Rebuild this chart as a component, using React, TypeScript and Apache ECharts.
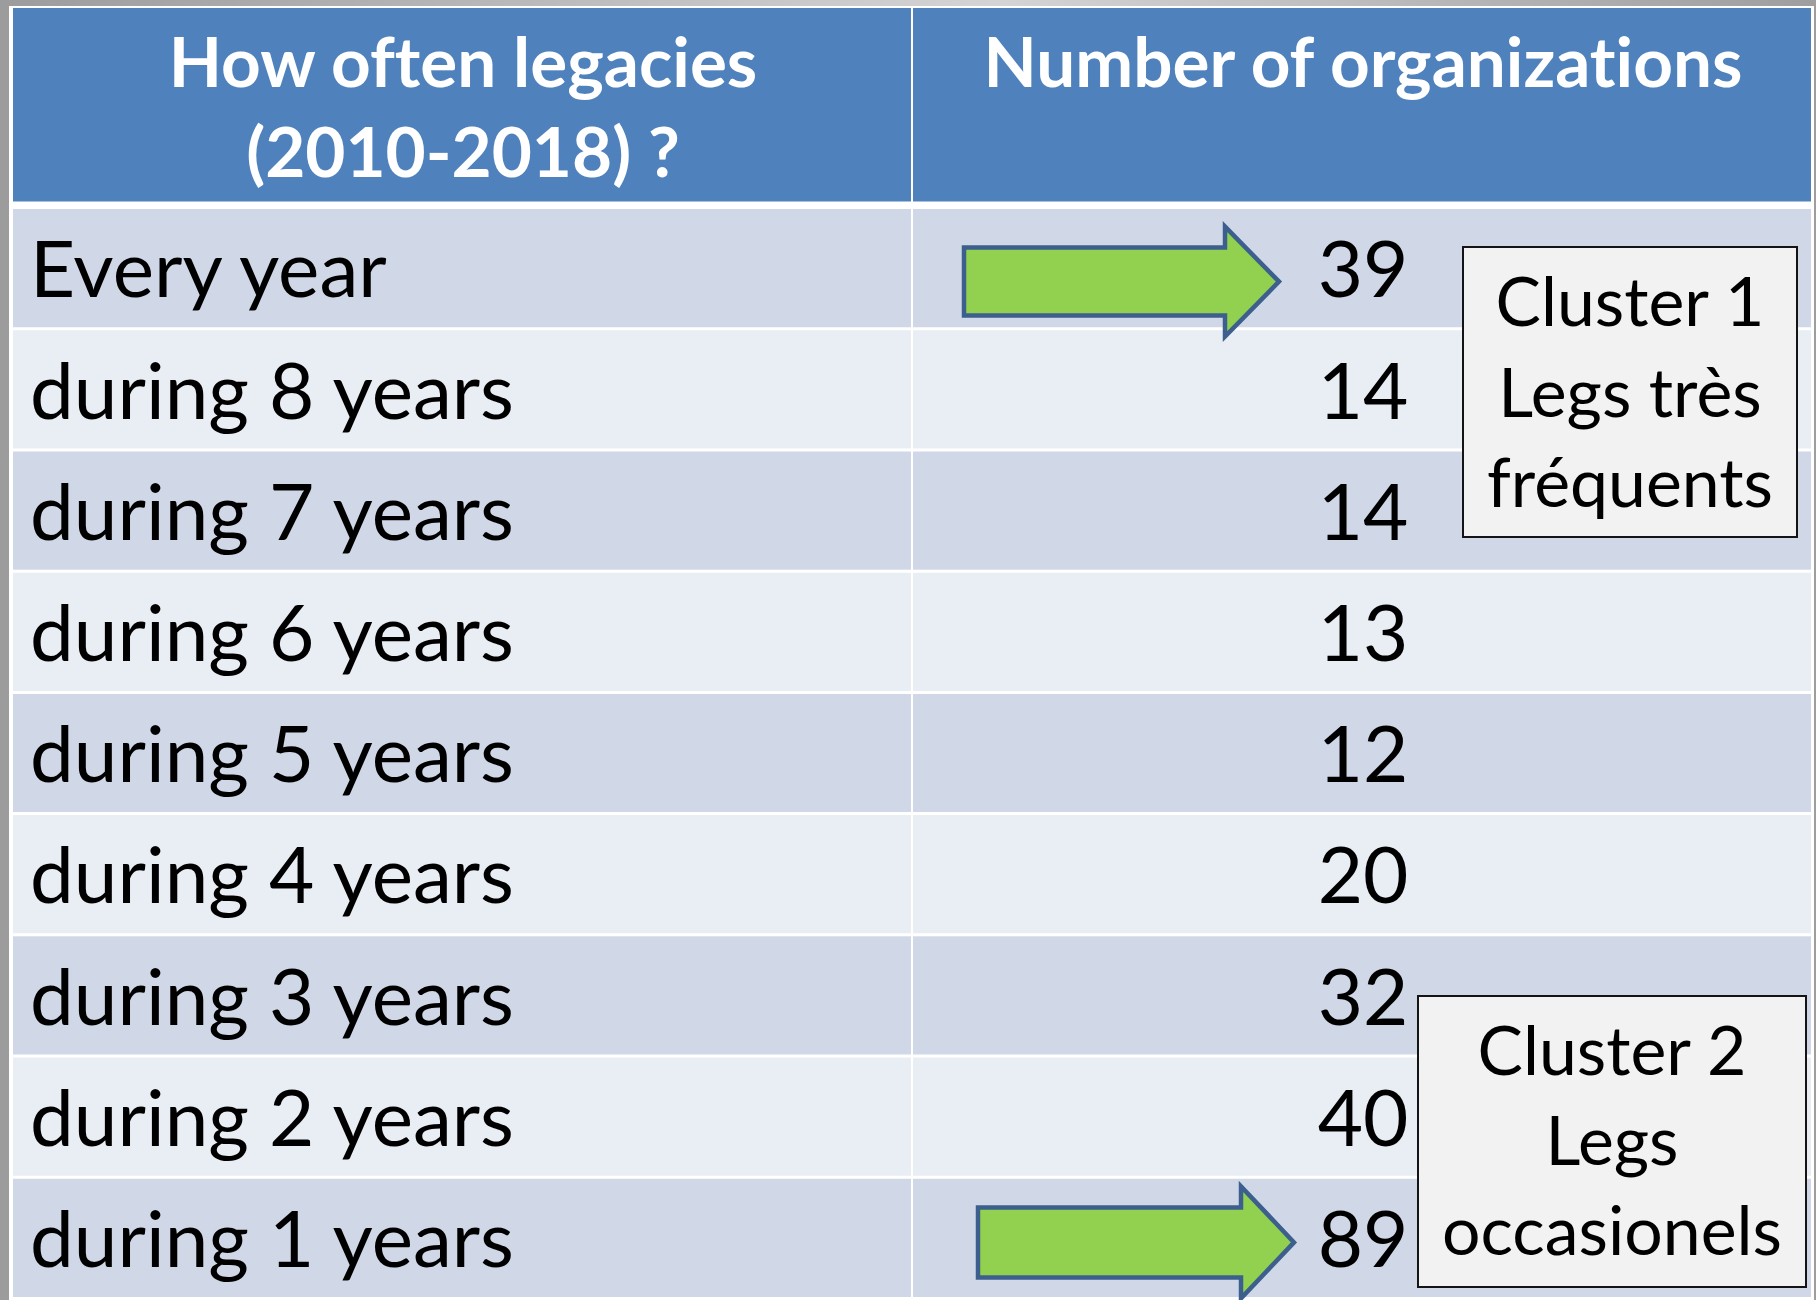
import React, { useEffect, useRef } from 'react';
import * as echarts from 'echarts';

// ---------- data ----------
const columnKeys = ['label', 'count'];
const headerLines = [['How often legacies', '(2010-2018) ?'], ['Number of organizations']];
const categories = [
  'Every year',
  'during 8 years',
  'during 7 years',
  'during 6 years',
  'during 5 years',
  'during 4 years',
  'during 3 years',
  'during 2 years',
  'during 1 years',
];
const counts = [39, 14, 14, 13, 12, 20, 32, 40, 89];
const arrowRows = ['Every year', 'during 1 years'];
const cluster1Lines = ['Cluster 1', 'Legs très', 'fréquents'];
const cluster2Lines = ['Cluster 2', 'Legs', 'occasionels'];

// ---------- layout / style ----------
const FAMILY = 'Lato';
const CENTRAL = 0.387; // central baseline offset (em) for Lato
const ARROW_LAYOUT = [
  { left: -399, tip: -84, dy: 12, body: 34, head: 55, headLen: 54 },
  { left: -385, tip: -69, dy: 3, body: 35, head: 56, headLen: 53 },
];

function fitSize(text: string, weight: string, target: number) {
  const ctx = document.createElement('canvas').getContext('2d');
  if (!ctx) return 80;
  ctx.font = `${weight} 100px ${FAMILY}`;
  return (100 * target) / ctx.measureText(text).width;
}

export default function App() {
  const ref = useRef<HTMLDivElement>(null);

  useEffect(() => {
    if (!ref.current) return;
    const styleEl = document.createElement('style');
    styleEl.textContent =
      'svg text { font-variant-ligatures: none !important; font-feature-settings: "liga" 0, "clig" 0, "dlig" 0 !important; }';
    document.head.appendChild(styleEl);

    const chart = echarts.init(ref.current, undefined, { renderer: 'svg' });

    const bodySize = fitSize('during 8 years', 'normal', 486);
    const headSize = fitSize('Number of organizations', 'bold', 763);
    const boxSize = fitSize('occasionels', 'normal', 340);

    const textAt = (text: string, x: number, baseline: number, size: number, extra: any = {}) => ({
      type: 'text',
      x,
      y: baseline - CENTRAL * size,
      style: {
        text,
        fill: '#000',
        fontSize: size,
        fontFamily: FAMILY,
        align: 'center',
        verticalAlign: 'middle',
        ...extra,
      },
    });

    const box = (x: number, y: number, w: number, h: number, lines: string[], baselines: number[]) => ({
      type: 'group',
      z: 100,
      children: [
        {
          type: 'rect',
          z: 100,
          shape: { x, y, width: w, height: h },
          style: { fill: '#f2f2f2', stroke: '#141414', lineWidth: 2 },
        },
        ...lines.map((l, i) => ({ ...textAt(l, x + w / 2, baselines[i], boxSize), z: 101 })),
      ],
    });

    const option: any = {
      animation: false,
      grid: [
        { left: 13, top: 209, width: 1800, height: 1091 },
        { left: 13, top: 8, width: 1800, height: 193.5 },
      ],
      xAxis: [
        { type: 'category', data: columnKeys, show: false, gridIndex: 0 },
        { type: 'category', data: columnKeys, show: false, gridIndex: 1 },
      ],
      yAxis: [
        { type: 'category', data: categories, inverse: true, show: false, gridIndex: 0 },
        { type: 'category', data: ['header'], show: false, gridIndex: 1 },
      ],
      graphic: [
        {
          type: 'rect',
          z: -10,
          shape: { x: 0, y: 0, width: 1816, height: 1300 },
          style: {
            fill: {
              type: 'linear',
              x: 0,
              y: 0,
              x2: 1,
              y2: 0,
              colorStops: [
                { offset: 0, color: '#9c9c9c' },
                { offset: 0.55, color: '#d4d4d4' },
                { offset: 1, color: '#9e9e9e' },
              ],
            },
          },
        },
        {
          type: 'rect',
          z: -9,
          shape: { x: 9, y: 6, width: 1805, height: 1294 },
          style: { fill: '#ffffff' },
        },
        box(1463, 247, 334, 290, cluster1Lines, [326, 417, 507]),
        box(1418, 996, 388, 291, cluster2Lines, [1075, 1165, 1255]),
      ],
      series: [
        {
          type: 'custom',
          name: 'header',
          xAxisIndex: 1,
          yAxisIndex: 1,
          data: columnKeys.map((_, i) => [i, 0]),
          encode: { x: 0, y: 1 },
          renderItem: (params: any, api: any) => {
            const col = api.value(0);
            const [cx, cy] = api.coord([col, 0]);
            const [bw, bh] = api.size([1, 1]);
            const x0 = cx - bw / 2;
            const y0 = cy - bh / 2;
            const lines = headerLines[col];
            return {
              type: 'group',
              children: [
                { type: 'rect', shape: { x: x0, y: y0, width: bw - 2, height: bh }, style: { fill: '#4f81bd' } },
                ...lines.map((l: string, i: number) =>
                  textAt(l, cx, y0 + 79 + i * 90, headSize, { fill: '#ffffff', fontWeight: 'bold' })
                ),
              ],
            };
          },
        },
        {
          type: 'custom',
          name: 'cells',
          data: categories.flatMap((_, i) => [
            [0, i],
            [1, i],
          ]),
          encode: { x: 0, y: 1 },
          renderItem: (params: any, api: any) => {
            const col = api.value(0);
            const row = api.value(1);
            const [cx, cy] = api.coord([col, row]);
            const [bw, bh] = api.size([1, 1]);
            const x0 = cx - bw / 2;
            const y0 = cy - bh / 2;
            const label = col === 0 ? categories[row] : String(counts[row]);
            return {
              type: 'group',
              children: [
                {
                  type: 'rect',
                  shape: { x: x0, y: y0, width: bw - 2, height: bh - 3 },
                  style: { fill: row % 2 === 0 ? '#d0d8e8' : '#e9edf4' },
                },
                textAt(label, col === 0 ? x0 + 17 : cx, cy + 28, bodySize, {
                  align: col === 0 ? 'left' : 'center',
                }),
              ],
            };
          },
        },
        {
          type: 'custom',
          name: 'arrows',
          z: 5,
          data: arrowRows.map((r) => [1, categories.indexOf(r)]),
          encode: { x: 0, y: 1 },
          renderItem: (params: any, api: any) => {
            const L = ARROW_LAYOUT[params.dataIndex];
            const [cx, cy] = api.coord([api.value(0), api.value(1)]);
            const x0 = cx + L.left;
            const x2 = cx + L.tip;
            const x1 = x2 - L.headLen;
            const yc = cy + L.dy;
            return {
              type: 'polygon',
              shape: {
                points: [
                  [x0, yc - L.body],
                  [x1, yc - L.body],
                  [x1, yc - L.head],
                  [x2, yc],
                  [x1, yc + L.head],
                  [x1, yc + L.body],
                  [x0, yc + L.body],
                ],
              },
              style: { fill: '#92d050', stroke: '#3c5f8d', lineWidth: 4.5, lineJoin: 'miter' },
            };
          },
        },
      ],
    };

    chart.setOption(option);
    return () => {
      chart.dispose();
      styleEl.remove();
    };
  }, []);

  return (
    <div
      ref={ref}
      style={{ position: 'absolute', left: 0, top: 0, width: 1816, height: 1300 }}
    />
  );
}
